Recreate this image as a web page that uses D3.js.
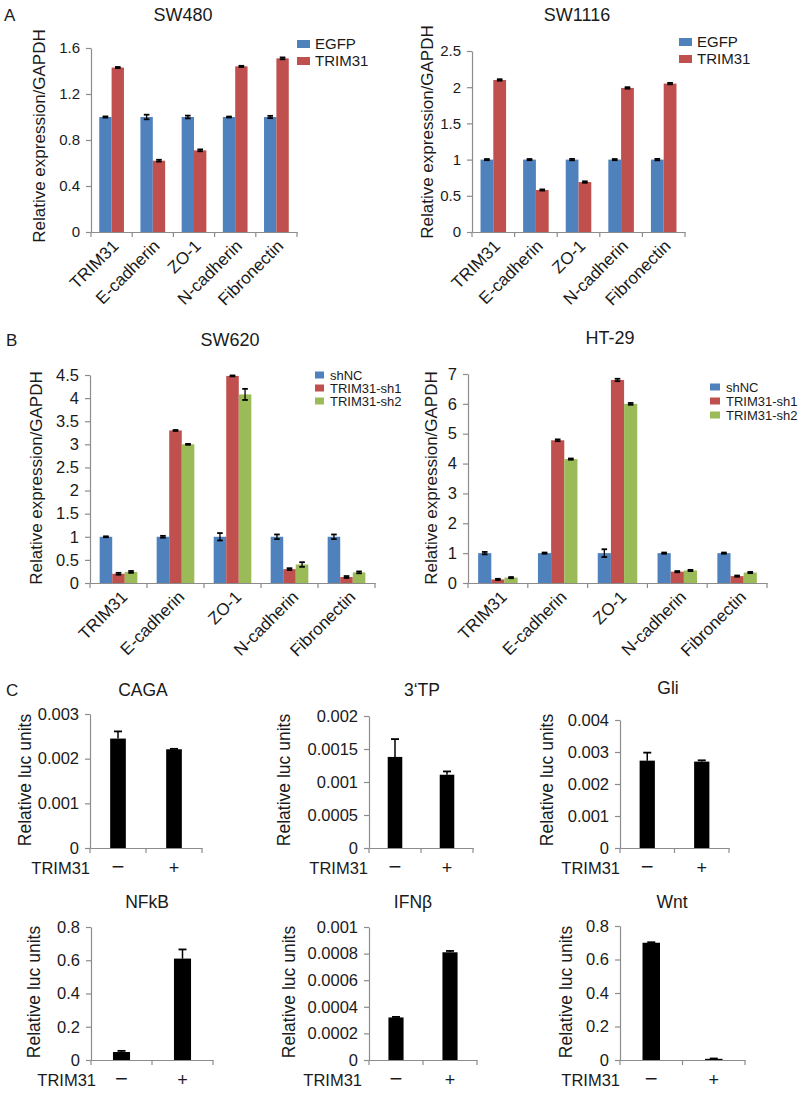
<!DOCTYPE html>
<html><head><meta charset="utf-8">
<script src="https://cdn.jsdelivr.net/npm/d3@7"></script>
<style>
body{margin:0;background:#fff}
text{font-family:"Liberation Sans",Arial,sans-serif;fill:#1a1a1a}
</style>
</head><body>
<svg id="fig" width="800" height="1095"></svg>
<script>
// ---------- DATA ----------
const genes = ["TRIM31", "E-cadherin", "ZO-1", "N-cadherin", "Fibronectin"];
const seriesA = ["EGFP", "TRIM31"];
const seriesB = ["shNC", "TRIM31-sh1", "TRIM31-sh2"];

const sw480EGFP = [1.00, 1.00, 1.00, 1.00, 1.00];
const sw480TRIM31 = [1.43, 0.62, 0.71, 1.44, 1.51];
const sw480EGFPErr = [0.005, 0.02, 0.012, 0.004, 0.01];
const sw480TRIM31Err = [0.005, 0.008, 0.008, 0.005, 0.008];
const sw480Ticks = [0, 0.4, 0.8, 1.2, 1.6];
const sw480TickLabels = ["0", "0.4", "0.8", "1.2", "1.6"];

const sw1116EGFP = [1.00, 1.00, 1.00, 1.00, 1.00];
const sw1116TRIM31 = [2.10, 0.58, 0.69, 1.99, 2.05];
const sw1116EGFPErr = [0.008, 0.008, 0.01, 0.008, 0.01];
const sw1116TRIM31Err = [0.01, 0.008, 0.01, 0.01, 0.01];
const sw1116Ticks = [0, 0.5, 1, 1.5, 2, 2.5];
const sw1116TickLabels = ["0", "0.5", "1", "1.5", "2", "2.5"];

const sw620shNC = [1.00, 1.00, 1.00, 1.00, 1.00];
const sw620sh1 = [0.20, 3.30, 4.48, 0.30, 0.13];
const sw620sh2 = [0.24, 3.00, 4.08, 0.40, 0.23];
const sw620shNCErr = [0.01, 0.02, 0.08, 0.05, 0.05];
const sw620sh1Err = [0.02, 0.01, 0.01, 0.02, 0.02];
const sw620sh2Err = [0.02, 0.01, 0.12, 0.05, 0.02];
const sw620Ticks = [0, 0.5, 1, 1.5, 2, 2.5, 3, 3.5, 4, 4.5];
const sw620TickLabels = ["0", "0.5", "1", "1.5", "2", "2.5", "3", "3.5", "4", "4.5"];

const ht29shNC = [1.00, 1.00, 1.00, 1.00, 1.00];
const ht29sh1 = [0.12, 4.78, 6.80, 0.38, 0.23];
const ht29sh2 = [0.18, 4.15, 6.00, 0.42, 0.35];
const ht29shNCErr = [0.04, 0.02, 0.13, 0.02, 0.02];
const ht29sh1Err = [0.02, 0.03, 0.04, 0.02, 0.02];
const ht29sh2Err = [0.02, 0.02, 0.03, 0.02, 0.02];
const ht29Ticks = [0, 1, 2, 3, 4, 5, 6, 7];
const ht29TickLabels = ["0", "1", "2", "3", "4", "5", "6", "7"];

const lucGroups = ["−", "+"];
const cagaVals = [0.00245, 0.00221];  const cagaErr = [0.00016, 0.00001];
const cagaTicks = [0, 0.001, 0.002, 0.003];
const cagaTickLabels = ["0", "0.001", "0.002", "0.003"];
const tpVals = [0.00138, 0.00111];    const tpErr = [0.00027, 0.00005];
const tpTicks = [0, 0.0005, 0.001, 0.0015, 0.002];
const tpTickLabels = ["0", "0.0005", "0.001", "0.0015", "0.002"];
const gliVals = [0.00273, 0.00270];   const gliErr = [0.00025, 0.00004];
const gliTicks = [0, 0.001, 0.002, 0.003, 0.004];
const gliTickLabels = ["0", "0.001", "0.002", "0.003", "0.004"];
const nfkbVals = [0.048, 0.61];       const nfkbErr = [0.007, 0.055];
const nfkbTicks = [0, 0.2, 0.4, 0.6, 0.8];
const nfkbTickLabels = ["0", "0.2", "0.4", "0.6", "0.8"];
const ifnVals = [0.00032, 0.00081];   const ifnErr = [0.000004, 0.00001];
const ifnTicks = [0, 0.0002, 0.0004, 0.0006, 0.0008, 0.001];
const ifnTickLabels = ["0", "0.0002", "0.0004", "0.0006", "0.0008", "0.001"];
const wntVals = [0.70, 0.007];        const wntErr = [0.003, 0.002];
const wntTicks = [0, 0.2, 0.4, 0.6, 0.8];
const wntTickLabels = ["0", "0.2", "0.4", "0.6", "0.8"];

// ---------- STYLE ----------
const colors = {"EGFP": "#4F81BD", "TRIM31": "#C0504D", "shNC": "#4F81BD", "TRIM31-sh1": "#C0504D", "TRIM31-sh2": "#9BBB59"};
const axisColor = "#8c8c8c";
const svg = d3.select("#fig");

function styleAxis(g, fs) {
  g.select(".domain").attr("stroke", axisColor).attr("stroke-width", 1.2);
  g.selectAll(".tick line").attr("stroke", axisColor).attr("stroke-width", 1.2);
  g.selectAll(".tick text").attr("font-size", fs).attr("fill", "#1a1a1a")
    .attr("font-family", "'Liberation Sans', Arial, sans-serif");
}

function text(x, y, s, fs, anchor, extra) {
  const t = svg.append("text").attr("x", x).attr("y", y).attr("font-size", fs)
    .attr("text-anchor", anchor || "middle").text(s);
  if (extra) extra(t);
  return t;
}

function groupedChart(cfg) {
  const g = svg.append("g");
  const x = d3.scaleBand().domain(genes).range([cfg.x0, cfg.x1]).padding(0);
  const y = d3.scaleLinear().domain([0, cfg.max]).range([cfg.y0, cfg.yTop]);
  const sub = d3.scaleBand().domain(cfg.series).range([0, x.bandwidth()])
    .paddingInner(0).paddingOuter(cfg.outer);

  // y axis
  const ya = g.append("g").attr("transform", `translate(${cfg.x0},0)`)
    .call(d3.axisLeft(y).tickValues(cfg.ticks).tickSize(5).tickSizeOuter(0).tickPadding(6)
      .tickFormat((d, i) => cfg.tickLabels[i]));
  styleAxis(ya, cfg.tickFs);

  // bars
  cfg.series.forEach((s, si) => {
    const vals = cfg.values[si], errs = cfg.errors[si];
    g.selectAll(null).data(genes).enter().append("rect")
      .attr("x", d => x(d) + sub(s))
      .attr("width", sub.bandwidth())
      .attr("y", (d, i) => y(vals[i]))
      .attr("height", (d, i) => y(0) - y(vals[i]))
      .attr("fill", colors[s]);
    const cx = d => x(d) + sub(s) + sub.bandwidth() / 2;
    const eb = g.selectAll(null).data(genes).enter().append("g");
    eb.append("line").attr("x1", cx).attr("x2", cx)
      .attr("y1", (d, i) => y(vals[i] - errs[i])).attr("y2", (d, i) => y(vals[i] + errs[i]))
      .attr("stroke", "#000").attr("stroke-width", 1.3);
    [-1, 1].forEach(sg => {
      eb.append("line").attr("x1", d => cx(d) - 2.8).attr("x2", d => cx(d) + 2.8)
        .attr("y1", (d, i) => y(vals[i] + sg * errs[i])).attr("y2", (d, i) => y(vals[i] + sg * errs[i]))
        .attr("stroke", "#000").attr("stroke-width", 1.8);
    });
  });

  // x axis
  const xa = g.append("g").attr("transform", `translate(0,${cfg.y0})`)
    .call(d3.axisBottom(x).tickSize(0).tickFormat(""));
  xa.select(".domain").attr("stroke", axisColor).attr("stroke-width", 1.2);
  const bounds = genes.map(d => x(d)).concat([x.range()[1]]);
  g.selectAll(null).data(bounds).enter().append("line")
    .attr("x1", d => d).attr("x2", d => d).attr("y1", cfg.y0).attr("y2", cfg.y0 + 5)
    .attr("stroke", axisColor).attr("stroke-width", 1.2);

  // category labels
  g.selectAll(null).data(genes).enter().append("text")
    .attr("transform", d => `translate(${x(d) + x.bandwidth() / 2 + cfg.ldx},${cfg.y0 + cfg.ldy}) rotate(-45)`)
    .attr("text-anchor", "end").attr("font-size", cfg.labelFs).text(d => d);

  // y title
  text(0, 0, "Relative expression/GAPDH", cfg.yTitleFs, "middle",
    t => t.attr("transform", `translate(${cfg.ytx},${cfg.yty}) rotate(-90)`).attr("x", null).attr("y", null)
          .attr("dy", "0.35em"));
  // title
  text(cfg.tx, cfg.ty, cfg.title, cfg.titleFs, "middle");

  // legend
  cfg.series.forEach((s, si) => {
    g.append("rect").attr("x", cfg.lx).attr("y", cfg.ly + si * cfg.lstep - cfg.lh / 2)
      .attr("width", cfg.lw).attr("height", cfg.lh).attr("fill", colors[s]);
    g.append("text").attr("x", cfg.lx + cfg.lw + cfg.lgap).attr("y", cfg.ly + si * cfg.lstep)
      .attr("dy", "0.35em").attr("font-size", cfg.legendFs).text(s);
  });
}

function lucChart(cfg) {
  const g = svg.append("g");
  const x = d3.scaleBand().domain(lucGroups).range([cfg.x0, cfg.x1]).padding(0);
  const y = d3.scaleLinear().domain([0, cfg.max]).range([cfg.y0, cfg.yTop]);
  const bw = x.bandwidth() * 0.28;

  const ya = g.append("g").attr("transform", `translate(${cfg.x0},0)`)
    .call(d3.axisLeft(y).tickValues(cfg.ticks).tickSize(5).tickSizeOuter(0).tickPadding(6)
      .tickFormat((d, i) => cfg.tickLabels[i]));
  styleAxis(ya, 16.5);

  g.selectAll(null).data(lucGroups).enter().append("rect")
    .attr("x", d => x(d) + x.bandwidth() / 2 - bw / 2)
    .attr("width", bw)
    .attr("y", (d, i) => y(cfg.values[i]))
    .attr("height", (d, i) => y(0) - y(cfg.values[i]))
    .attr("fill", "#000");
  const cx = d => x(d) + x.bandwidth() / 2;
  g.selectAll(null).data(lucGroups).enter().append("line")
    .attr("x1", cx).attr("x2", cx)
    .attr("y1", (d, i) => y(cfg.values[i])).attr("y2", (d, i) => y(cfg.values[i] + cfg.errors[i]))
    .attr("stroke", "#000").attr("stroke-width", 1.5);
  g.selectAll(null).data(lucGroups).enter().append("line")
    .attr("x1", d => cx(d) - 4).attr("x2", d => cx(d) + 4)
    .attr("y1", (d, i) => y(cfg.values[i] + cfg.errors[i])).attr("y2", (d, i) => y(cfg.values[i] + cfg.errors[i]))
    .attr("stroke", "#000").attr("stroke-width", 1.8);

  const xa = g.append("g").attr("transform", `translate(0,${cfg.y0})`)
    .call(d3.axisBottom(x).tickSize(0).tickFormat(""));
  xa.select(".domain").attr("stroke", axisColor).attr("stroke-width", 1.2);
  const bounds = lucGroups.map(d => x(d)).concat([x.range()[1]]);
  g.selectAll(null).data(bounds).enter().append("line")
    .attr("x1", d => d).attr("x2", d => d).attr("y1", cfg.y0).attr("y2", cfg.y0 + 5)
    .attr("stroke", axisColor).attr("stroke-width", 1.2);

  g.selectAll(null).data(lucGroups).enter().append("text")
    .attr("x", cx).attr("y", cfg.y0 + 26).attr("text-anchor", "middle")
    .attr("font-size", d => d === "−" ? 22 : 18).attr("font-weight", 300)
    .attr("fill", "#444").text(d => d);
  text(cfg.trimX, cfg.y0 + 26, "TRIM31", 16.5, "end");

  text(0, 0, "Relative luc units", 17.5, "middle",
    t => t.attr("transform", `translate(${cfg.ytx},${cfg.yty}) rotate(-90)`).attr("x", null).attr("y", null)
          .attr("dy", "0.35em"));
  text(cfg.tx, cfg.ty, cfg.title, 17.5, "middle");
}

// ---------- PANEL A ----------
text(4, 21, "A", 17, "start");
groupedChart({x0: 91, x1: 297, y0: 232, yTop: 48, max: 1.6, ticks: sw480Ticks, tickLabels: sw480TickLabels,
  series: seriesA, values: [sw480EGFP, sw480TRIM31], errors: [sw480EGFPErr, sw480TRIM31Err], outer: 0.667,
  tickFs: 15, labelFs: 17, yTitleFs: 17, titleFs: 18, ldx: 8, ldy: 15,
  ytx: 39, yty: 136, tx: 183, ty: 21, title: "SW480",
  lx: 297, ly: 44, lstep: 17, lw: 13, lh: 8, lgap: 5, legendFs: 15});
groupedChart({x0: 472, x1: 685, y0: 232, yTop: 51, max: 2.5, ticks: sw1116Ticks, tickLabels: sw1116TickLabels,
  series: seriesA, values: [sw1116EGFP, sw1116TRIM31], errors: [sw1116EGFPErr, sw1116TRIM31Err], outer: 0.667,
  tickFs: 15, labelFs: 17, yTitleFs: 17, titleFs: 18, ldx: 8, ldy: 15,
  ytx: 427, yty: 132, tx: 577, ty: 21, title: "SW1116",
  lx: 679, ly: 42, lstep: 17, lw: 13, lh: 8, lgap: 5, legendFs: 15});

// ---------- PANEL B ----------
text(6, 346, "B", 17, "start");
groupedChart({x0: 90, x1: 375, y0: 583, yTop: 375, max: 4.5, ticks: sw620Ticks, tickLabels: sw620TickLabels,
  series: seriesB, values: [sw620shNC, sw620sh1, sw620sh2], errors: [sw620shNCErr, sw620sh1Err, sw620sh2Err], outer: 0.77,
  tickFs: 16.5, labelFs: 17, yTitleFs: 17, titleFs: 18, ldx: 10, ldy: 15,
  ytx: 36, yty: 478, tx: 230, ty: 346, title: "SW620",
  lx: 315, ly: 375, lstep: 13, lw: 9, lh: 7, lgap: 6, legendFs: 13});
groupedChart({x0: 468, x1: 767, y0: 583, yTop: 374, max: 7, ticks: ht29Ticks, tickLabels: ht29TickLabels,
  series: seriesB, values: [ht29shNC, ht29sh1, ht29sh2], errors: [ht29shNCErr, ht29sh1Err, ht29sh2Err], outer: 0.77,
  tickFs: 16.5, labelFs: 17, yTitleFs: 17, titleFs: 18, ldx: 10, ldy: 15,
  ytx: 431, yty: 478, tx: 610, ty: 344, title: "HT-29",
  lx: 710, ly: 387, lstep: 14, lw: 10, lh: 7, lgap: 6, legendFs: 13});

// ---------- PANEL C ----------
text(6, 696, "C", 17, "start");
lucChart({x0: 90, x1: 202, y0: 848, yTop: 714, max: 0.003, ticks: cagaTicks, tickLabels: cagaTickLabels,
  values: cagaVals, errors: cagaErr, trimX: 90, ytx: 25, yty: 780, tx: 143, ty: 696, title: "CAGA"});
lucChart({x0: 369, x1: 473, y0: 848, yTop: 716, max: 0.002, ticks: tpTicks, tickLabels: tpTickLabels,
  values: tpVals, errors: tpErr, trimX: 368, ytx: 284, yty: 780, tx: 422, ty: 696, title: "3‘TP"});
lucChart({x0: 620, x1: 729, y0: 848, yTop: 720, max: 0.004, ticks: gliTicks, tickLabels: gliTickLabels,
  values: gliVals, errors: gliErr, trimX: 620, ytx: 547, yty: 780, tx: 668, ty: 694, title: "Gli"});
lucChart({x0: 91, x1: 213, y0: 1060, yTop: 927, max: 0.8, ticks: nfkbTicks, tickLabels: nfkbTickLabels,
  values: nfkbVals, errors: nfkbErr, trimX: 96, ytx: 34, yty: 992, tx: 147, ty: 908, title: "NFkB"});
lucChart({x0: 369, x1: 477, y0: 1060, yTop: 927, max: 0.001, ticks: ifnTicks, tickLabels: ifnTickLabels,
  values: ifnVals, errors: ifnErr, trimX: 362, ytx: 289, yty: 992, tx: 413, ty: 908, title: "IFNβ"});
lucChart({x0: 620, x1: 745, y0: 1060, yTop: 926, max: 0.8, ticks: wntTicks, tickLabels: wntTickLabels,
  values: wntVals, errors: wntErr, trimX: 620, ytx: 566, yty: 992, tx: 672, ty: 908, title: "Wnt"});
</script>
</body></html>
